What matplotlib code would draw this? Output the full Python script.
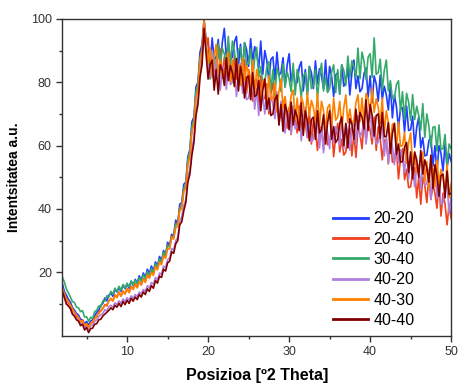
import numpy as np
import matplotlib.pyplot as plt

plt.rcParams['font.family'] = ['Liberation Sans', 'DejaVu Sans']

# 2theta sampling grid (0.25 deg steps from 2 to 50)
two_theta = np.linspace(2, 50, 193)

# intensities (a.u.), 4 values per degree
s_20_20 = [
    16.5, 14.0, 12.8, 11.5, 10.6, 8.9, 8.1, 7.0, 6.5, 5.2, 5.0, 3.8, 4.5, 3.4, 4.6, 5.0,
    6.3, 7.4, 8.0, 9.6, 10.2, 11.9, 11.0, 12.8, 13.5, 12.4, 14.6, 13.8, 15.2, 14.0, 15.9, 14.8,
    16.3, 15.0, 17.2, 15.9, 17.8, 16.6, 18.9, 17.5, 19.8, 18.4, 21.0, 19.6, 22.0, 20.5, 23.3, 21.9,
    25.0, 23.6, 26.9, 25.4, 29.5, 28.3, 32.0, 31.6, 36.5, 35.2, 41.5, 42.0, 47.8, 48.5, 56.5, 58.8,
    67.5, 69.0, 78.5, 80.0, 89.5, 92.0, 100, 93.5,
    92, 85, 94, 87, 88, 93.5, 85, 92.5, 97, 88, 92, 87, 88, 92.75, 94.5, 85.25,
    92, 83.75, 92.5, 90.25, 85, 93.75, 86.5, 91.25, 89, 84.5, 93, 82.5, 90, 86.75, 80.5, 87.25,
    88, 80.75, 89.5, 82.25, 83, 87.75, 78.5, 85.25, 89, 80, 84, 79, 80, 84.75, 86.5, 77.25,
    84, 76, 85, 83, 78, 86.75, 79.5, 84.25, 82, 78, 87, 77, 85, 81.75, 75.5, 82.25,
    83, 76.25, 85.5, 78.75, 80, 85, 76, 83, 87, 78, 82, 77, 78, 82.75, 84.5, 75.25,
    82, 73.5, 82, 79.5, 74, 82.25, 74.5, 78.75, 76, 71.25, 79.5, 68.75, 76, 72.25, 65.5, 71.75,
    72, 64.25, 72.5, 64.75, 65, 69.25, 59.5, 65.75, 69, 59.25, 62.5, 56.75, 57, 61.5, 63, 53.5,
    60, 51.5, 60, 57.5, 52, 60.5, 53, 57.5,
    55,
]
s_20_40 = [
    14.8, 12.6, 11.9, 10.2, 9.8, 8.0, 7.4, 6.0, 5.6, 4.3, 4.9, 3.1, 3.6, 2.5, 3.9, 4.2,
    5.6, 6.0, 7.4, 7.9, 8.6, 9.8, 9.4, 11.0, 11.7, 11.0, 12.9, 12.2, 13.8, 12.5, 14.0, 13.2,
    14.9, 13.7, 15.6, 14.8, 16.4, 15.3, 17.2, 16.0, 18.0, 17.1, 19.6, 18.5, 20.6, 19.8, 22.4, 21.3,
    23.8, 23.0, 25.9, 25.0, 28.6, 28.0, 31.5, 31.0, 35.4, 35.5, 40.5, 41.0, 46.5, 47.0, 55.0, 57.5,
    65.5, 67.0, 76.5, 78.5, 87.5, 90.5, 99.0, 92.0,
    94, 84.75, 88.5, 83.25, 84, 88.75, 90.5, 81.25, 88, 79.5, 88, 85.5, 80, 88.5, 81, 85.5,
    83, 78.5, 87, 76.5, 84, 80.5, 74, 80.5, 81, 73.5, 82, 74.5, 75, 79.5, 70, 76.5,
    80, 70.5, 74, 68.5, 69, 73.5, 75, 65.5, 72, 63.5, 72, 69.5, 64, 72.5, 65, 69.5,
    67, 62.5, 71, 60.5, 68, 64.75, 58.5, 65.25, 66, 58.75, 67.5, 60.25, 61, 65.75, 56.5, 63.25,
    67, 58, 62, 57, 58, 63.25, 65.5, 56.75, 64, 56.25, 65.5, 63.75, 59, 68.25, 61.5, 66.75,
    65, 60.5, 69, 58.5, 66, 62.25, 55.5, 61.75, 62, 54.25, 62.5, 54.75, 55, 59.25, 49.5, 55.75,
    59, 49.25, 52.5, 46.75, 47, 51.5, 53, 43.5, 50, 41.5, 50, 47.5, 42, 50.5, 43, 47.5,
    45, 40.25, 48.5, 37.75, 45, 41.5, 35, 41.5,
    37,
]
s_30_40 = [
    18.5, 17.0, 14.8, 13.5, 12.2, 10.8, 10.5, 9.0, 8.8, 7.6, 7.9, 5.9, 6.0, 4.6, 5.8, 5.5,
    7.6, 8.0, 9.4, 9.0, 11.0, 10.9, 12.6, 12.2, 14.0, 13.1, 15.0, 13.9, 15.6, 14.4, 16.2, 15.0,
    16.6, 15.4, 17.3, 16.0, 17.5, 16.4, 18.3, 17.2, 19.2, 18.0, 20.3, 19.1, 21.2, 20.1, 22.7, 21.6,
    24.2, 23.4, 26.4, 25.2, 28.5, 28.0, 31.2, 31.0, 35.2, 35.0, 40.0, 41.2, 46.5, 47.5, 55.5, 58.0,
    66.0, 68.0, 77.0, 79.0, 87.5, 89.5, 97.0, 90.5,
    89, 81, 90, 88, 83, 92.25, 85.5, 90.75, 89, 85.25, 94.5, 84.75, 93, 89.75, 83.5, 90.25,
    91, 83.75, 92.5, 85.25, 86, 90.5, 81, 87.5, 91, 81.5, 85, 79.5, 80, 84.75, 86.5, 77.25,
    84, 75.75, 84.5, 82.25, 77, 85.75, 78.5, 83.25, 81, 77, 86, 76, 84, 81, 75, 82,
    83, 76, 85, 78, 79, 84, 75, 82, 86, 77.25, 81.5, 76.75, 78, 83.25, 85.5, 76.75,
    84, 76.25, 85.5, 83.75, 79, 88.25, 81.5, 86.75, 85, 81.4, 90.75, 81.1, 89.5, 86.6, 80.75, 87.9,
    89, 81.5, 94, 82.5, 83, 87.25, 77.5, 83.75, 87, 77.25, 80.5, 74.75, 75, 79.25, 80.5, 70.75,
    77, 68.25, 76.5, 73.75, 68, 76.1, 68.25, 72.4, 69.5, 64.9, 73.25, 62.6, 70, 66.25, 59.5, 65.75,
    66, 58.25, 66.5, 58.75, 59, 63.5, 54, 60.5,
    59,
]
s_40_20 = [
    13.6, 12.0, 10.4, 9.5, 8.5, 7.1, 6.3, 5.4, 5.0, 3.8, 4.1, 2.7, 3.0, 2.0, 3.1, 3.4,
    4.5, 5.1, 6.0, 6.6, 7.0, 8.2, 7.8, 9.2, 9.6, 9.0, 10.4, 9.8, 11.0, 10.2, 11.6, 10.8,
    12.0, 11.2, 12.6, 11.8, 13.0, 12.3, 13.8, 13.2, 14.6, 14.0, 15.8, 15.1, 16.8, 16.2, 18.4, 17.6,
    19.8, 19.4, 22.0, 21.5, 24.0, 24.5, 27.5, 27.0, 30.0, 31.0, 36.0, 37.5, 41.0, 43.0, 50.0, 52.5,
    59.0, 62.5, 71.0, 74.5, 83.5, 87.0, 98.0, 90.0,
    86, 81.5, 90, 79.5, 87, 83.75, 77.5, 84.25, 85, 77.75, 86.5, 79.25, 80, 84.75, 75.5, 82.25,
    86, 76.5, 80, 74.5, 75, 79.5, 81, 71.5, 78, 69.5, 78, 75.5, 70, 78.5, 71, 75.5,
    73, 68.5, 77, 66.5, 74, 70.5, 64, 70.5, 71, 63.75, 72.5, 65.25, 66, 70.75, 61.5, 68.25,
    72, 62.75, 66.5, 61.25, 62, 66.75, 68.5, 59.25, 66, 57.75, 66.5, 64.25, 59, 68, 61, 66,
    64, 60, 69, 59, 67, 64.25, 58.5, 65.75, 67, 60.25, 69.5, 62.75, 64, 69.25, 60.5, 67.75,
    72, 62.5, 66, 60.5, 61, 65.25, 66.5, 56.75, 63, 54.25, 62.5, 59.75, 54, 62.25, 54.5, 58.75,
    56, 51.5, 60, 49.5, 57, 53.5, 47, 53.5, 54, 46.5, 55, 47.5, 48, 52.5, 43, 49.5,
    53, 43.5, 47, 41.5, 42, 46.5, 48, 38.5,
    44,
]
s_40_30 = [
    15.0, 13.2, 11.5, 10.8, 9.6, 8.4, 7.5, 6.4, 5.8, 4.4, 4.8, 3.2, 3.8, 2.6, 3.9, 4.4,
    5.4, 6.2, 7.0, 7.8, 8.6, 9.5, 9.8, 10.9, 11.8, 11.0, 12.8, 12.0, 13.7, 12.6, 14.2, 13.2,
    14.8, 13.6, 15.4, 14.6, 16.2, 15.1, 17.0, 16.2, 17.8, 16.8, 19.2, 18.1, 20.0, 19.0, 21.8, 20.8,
    23.2, 22.4, 25.2, 24.4, 27.5, 27.4, 31.0, 30.5, 34.0, 34.5, 39.5, 40.0, 45.5, 46.5, 54.0, 56.5,
    64.5, 66.5, 75.0, 77.5, 86.5, 90.0, 99.5, 92.5,
    86, 90.75, 81.5, 88.25, 92, 83, 87, 82, 83, 87.75, 89.5, 80.25, 87, 78.5, 87, 84.5,
    79, 87.75, 80.5, 85.25, 83, 78.5, 87, 76.5, 84, 80.5, 74, 80.5, 81, 73.5, 82, 74.5,
    75, 79.75, 70.5, 77.25, 81, 71.75, 75.5, 70.25, 71, 75.75, 77.5, 68.25, 75, 66.75, 75.5, 73.25,
    68, 76.75, 69.5, 74.25, 72, 67.75, 76.5, 66.25, 74, 71, 65, 72, 73, 66, 75, 68,
    69, 74, 65, 72, 76, 67.25, 71.5, 66.75, 68, 73.5, 76, 67.5, 75, 67.25, 76.5, 74.75,
    70, 78.25, 70.5, 74.75, 72, 67, 75, 64, 71, 67.25, 60.5, 66.75, 67, 59.25, 67.5, 59.75,
    60, 64.25, 54.5, 60.75, 64, 54.25, 57.5, 51.75, 52, 56.5, 58, 48.5, 55, 46.5, 55, 52.5,
    47, 55.5, 48, 52.5, 50, 45.5, 54, 43.5,
    48,
]
s_40_40 = [
    14.0, 12.2, 10.0, 9.4, 8.6, 6.8, 6.2, 5.0, 4.6, 3.2, 3.6, 1.8, 2.6, 1.0, 2.2, 2.4,
    3.6, 3.8, 5.0, 5.2, 6.2, 6.8, 7.4, 8.0, 8.8, 8.2, 9.6, 9.0, 10.2, 9.2, 10.8, 9.8,
    11.2, 10.2, 11.8, 10.9, 12.2, 11.4, 13.0, 12.2, 13.8, 13.0, 14.8, 14.0, 15.8, 15.0, 17.4, 16.6,
    18.8, 18.4, 21.0, 20.4, 23.0, 23.5, 26.5, 26.0, 29.0, 30.0, 35.0, 36.0, 39.5, 42.0, 48.5, 51.0,
    57.0, 61.0, 69.5, 73.0, 81.5, 85.5, 97.0, 89.0,
    81, 85.5, 87, 77.5, 84, 76.25, 85.5, 83.75, 79, 87.75, 80.5, 85.25, 83, 78.75, 87.5, 77.25,
    85, 81.5, 75, 81.5, 82, 74.5, 83, 75.5, 76, 80.5, 71, 77.5, 81, 71.5, 75, 69.5,
    70, 74.5, 76, 66.5, 73, 64.5, 73, 70.5, 65, 73.75, 66.5, 71.25, 69, 64.75, 73.5, 63.25,
    71, 67.75, 61.5, 68.25, 69, 62, 71, 64, 65, 69.75, 60.5, 67.25, 71, 62, 66, 61,
    62, 67, 69, 60, 67, 59.25, 68.5, 66.75, 62, 71.5, 65, 70.5, 69, 65.25, 74.5, 64.75,
    73, 69.5, 63, 69.5, 70, 62.25, 70.5, 62.75, 63, 67.25, 57.5, 63.75, 67, 57.25, 60.5, 54.75,
    55, 59.5, 61, 51.5, 58, 49.5, 58, 55.5, 50, 58.5, 51, 55.5, 53, 48.5, 57, 46.5,
    54, 50.5, 44, 50.5, 51, 43.5, 52, 44.5,
    45,
]

labels = ["20-20", "20-40", "30-40", "40-20", "40-30", "40-40"]
series = [s_20_20, s_20_40, s_30_40, s_40_20, s_40_30, s_40_40]
colors = ["#1f3dff", "#f0401c", "#35a96a", "#b07ee0", "#ff8000", "#800000"]

fig = plt.figure(figsize=(4.58, 3.85), dpi=100)
ax = fig.add_axes([0.136, 0.128, 0.849, 0.823])

for y, lab, c in zip(series, labels, colors):
    ax.plot(two_theta, y, color=c, lw=1.2, label=lab)

ax.set_xlim(2, 50)
ax.set_ylim(0, 100)
ax.set_xticks([10, 20, 30, 40, 50])
ax.set_xticks([5, 15, 25, 35, 45], minor=True)
ax.set_yticks([20, 40, 60, 80, 100])
ax.set_yticks([10, 30, 50, 70, 90], minor=True)
ax.tick_params(which="major", direction="out", length=4, width=1, labelsize=9, colors="#333333")
ax.tick_params(which="minor", direction="out", length=2.5, width=1, colors="#333333")
for sp in ax.spines.values():
    sp.set_linewidth(1.0)
    sp.set_color("#333333")

ax.set_xlabel("Posizioa [º2 Theta]", fontsize=11.5, fontweight="bold", labelpad=7)
ax.set_ylabel("Intentsitatea a.u.", fontsize=10, fontweight="bold", labelpad=7)

leg = ax.legend(loc="lower left", bbox_to_anchor=(0.695, 0.025), frameon=False,
                fontsize=11.5, handlelength=2.2, handletextpad=0.35, labelspacing=0.33,
                borderpad=0, borderaxespad=0)
for h in leg.get_lines():
    h.set_linewidth(2)

plt.savefig("out.png", dpi=100)
plt.close(fig)
